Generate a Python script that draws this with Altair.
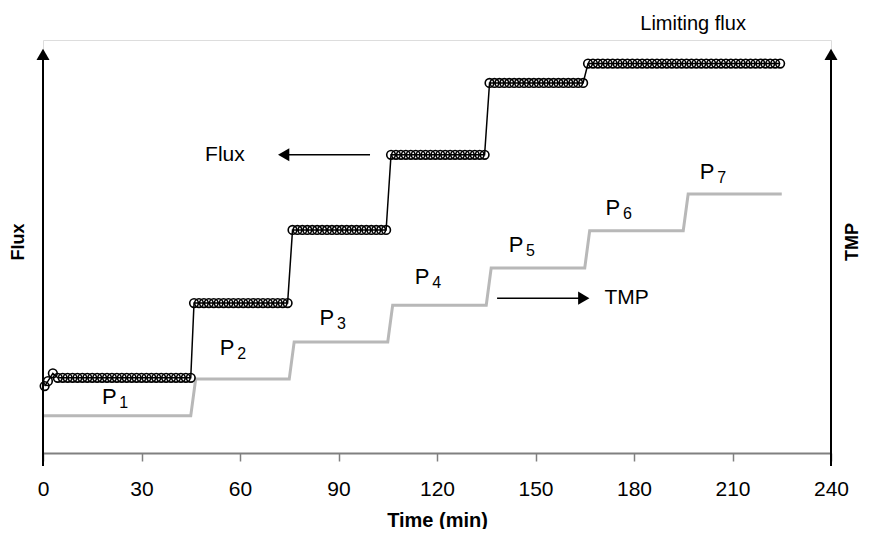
import altair as alt
import pandas as pd

# ---------------- data (arbitrary y units 0-100) ----------------
flux_time = (
    [0.5, 1.5, 3.0]
    + [4.5, 6, 7.5, 9, 10.5, 12, 13.5, 15, 16.5, 18, 19.5, 21, 22.5, 24, 25.5, 27, 28.5, 30,
       31.5, 33, 34.5, 36, 37.5, 39, 40.5, 42, 43.5, 45]
    + [46, 47.5, 49, 50.5, 52, 53.5, 55, 56.5, 58, 59.5, 61, 62.5, 64, 65.5, 67, 68.5, 70, 71.5, 73, 74.5]
    + [76, 77.5, 79, 80.5, 82, 83.5, 85, 86.5, 88, 89.5, 91, 92.5, 94, 95.5, 97, 98.5, 100, 101.5, 103, 104.5]
    + [106, 107.5, 109, 110.5, 112, 113.5, 115, 116.5, 118, 119.5, 121, 122.5, 124, 125.5, 127, 128.5, 130,
       131.5, 133, 134.5]
    + [136, 137.5, 139, 140.5, 142, 143.5, 145, 146.5, 148, 149.5, 151, 152.5, 154, 155.5, 157, 158.5, 160,
       161.5, 163, 164.5]
    + [166, 167.5, 169, 170.5, 172, 173.5, 175, 176.5, 178, 179.5, 181, 182.5, 184, 185.5, 187, 188.5, 190,
       191.5, 193, 194.5, 196, 197.5, 199, 200.5, 202, 203.5, 205, 206.5, 208, 209.5, 211, 212.5, 214, 215.5,
       217, 218.5, 220, 221.5, 223, 224.5]
)
flux_value = (
    [16.2, 17.4, 19.3]
    + [18.2, 18.2, 18.2, 18.2, 18.2, 18.2, 18.2, 18.2, 18.2, 18.2, 18.2, 18.2, 18.2, 18.2, 18.2, 18.2, 18.2,
       18.2, 18.2, 18.2, 18.2, 18.2, 18.2, 18.2, 18.2, 18.2, 18.2, 18.2]
    + [36.3, 36.3, 36.3, 36.3, 36.3, 36.3, 36.3, 36.3, 36.3, 36.3, 36.3, 36.3, 36.3, 36.3, 36.3, 36.3, 36.3,
       36.3, 36.3, 36.3]
    + [54.0, 54.0, 54.0, 54.0, 54.0, 54.0, 54.0, 54.0, 54.0, 54.0, 54.0, 54.0, 54.0, 54.0, 54.0, 54.0, 54.0,
       54.0, 54.0, 54.0]
    + [72.2, 72.2, 72.2, 72.2, 72.2, 72.2, 72.2, 72.2, 72.2, 72.2, 72.2, 72.2, 72.2, 72.2, 72.2, 72.2, 72.2,
       72.2, 72.2, 72.2]
    + [89.6, 89.6, 89.6, 89.6, 89.6, 89.6, 89.6, 89.6, 89.6, 89.6, 89.6, 89.6, 89.6, 89.6, 89.6, 89.6, 89.6,
       89.6, 89.6, 89.6]
    + [94.3, 94.3, 94.3, 94.3, 94.3, 94.3, 94.3, 94.3, 94.3, 94.3, 94.3, 94.3, 94.3, 94.3, 94.3, 94.3, 94.3,
       94.3, 94.3, 94.3, 94.3, 94.3, 94.3, 94.3, 94.3, 94.3, 94.3, 94.3, 94.3, 94.3, 94.3, 94.3, 94.3, 94.3,
       94.3, 94.3, 94.3, 94.3, 94.3, 94.3]
)

tmp_time = [0, 45, 46.5, 75, 76.5, 105, 106.5, 135, 136.5, 165, 166.5, 195, 196.5, 225]
tmp_value = [9.0, 9.0, 17.9, 17.9, 26.9, 26.9, 35.8, 35.8, 44.8, 44.8, 53.8, 53.8, 62.7, 62.7]

x_ticks = [0, 30, 60, 90, 120, 150, 180, 210, 240]

# pressure step labels P1..P7 (centre of each label)
p_sub = ["1", "2", "3", "4", "5", "6", "7"]
p_time = [22.0, 57.9, 88.3, 117.3, 145.9, 175.4, 204.1]
p_level = [13.6, 25.4, 32.7, 42.6, 50.4, 59.3, 68.0]

# annotations
flux_label = {"text": ["Flux"], "t": [55.4], "y": [72.2]}
tmp_label = {"text": ["TMP"], "t": [171.0], "y": [37.5]}
lim_label = {"text": ["Limiting flux"], "t": [198.0], "y": [103.9]}
flux_arrow = {"t": [99.6], "t2": [73.3], "y": [72.2]}
tmp_arrow = {"t": [138.3], "t2": [164.7], "y": [37.5]}

FONT = "Liberation Sans"
W, H = 788, 413

xs = alt.Scale(domain=[0, 240], nice=False, zero=False)
ys = alt.Scale(domain=[0, 100], nice=False, zero=False)

flux_df = pd.DataFrame({"t": flux_time, "v": flux_value})
tmp_df = pd.DataFrame({"t": tmp_time, "v": tmp_value})
p_df = pd.DataFrame({"sub": p_sub, "t": p_time, "y": p_level, "P": ["P"] * len(p_sub)})

x_axis = alt.Axis(values=x_ticks, title="Time (min)", grid=False, labelFlush=False,
                  domainColor="#808080", domainWidth=2,
                  tickColor="#808080", tickWidth=1.5, tickSize=8,
                  labelFont=FONT, labelFontSize=21, labelColor="black", labelPadding=17,
                  titleFont=FONT, titleFontSize=20, titleFontWeight="bold", titleColor="black",
                  titlePadding=11)

tmp_line = alt.Chart(tmp_df).mark_line(color="#b8b8b8", strokeWidth=3).encode(
    x=alt.X("t:Q", scale=xs, axis=x_axis),
    y=alt.Y("v:Q", scale=ys, axis=None),
)

flux_line = alt.Chart(flux_df).mark_line(color="black", strokeWidth=1.5).encode(
    x=alt.X("t:Q", scale=xs), y=alt.Y("v:Q", scale=ys))
flux_pts = alt.Chart(flux_df).mark_point(shape="circle", filled=False, color="black",
                                         strokeWidth=1.6, size=75, opacity=1).encode(
    x=alt.X("t:Q", scale=xs), y=alt.Y("v:Q", scale=ys))

# vertical axis lines with arrowheads (left = Flux, right = TMP)
vaxis_df = pd.DataFrame({"t": [0, 240], "y0": [-3.15, -3.15], "y1": [96.5, 96.5]})
vaxis = alt.Chart(vaxis_df).mark_rule(color="black", strokeWidth=2).encode(
    x=alt.X("t:Q", scale=xs), y=alt.Y("y0:Q", scale=ys), y2="y1:Q")
vheads = alt.Chart(vaxis_df).mark_point(shape="triangle-up", filled=True, color="black",
                                        size=170, opacity=1).encode(
    x=alt.X("t:Q", scale=xs), y=alt.Y("y1:Q", scale=ys))

# annotation arrows
fa_df = pd.DataFrame(flux_arrow)
ta_df = pd.DataFrame(tmp_arrow)
fa_line = alt.Chart(fa_df).mark_rule(color="black", strokeWidth=1.5).encode(
    x=alt.X("t:Q", scale=xs), x2="t2:Q", y=alt.Y("y:Q", scale=ys))
fa_head = alt.Chart(fa_df).mark_point(shape="triangle-left", filled=True, color="black",
                                      size=170, opacity=1).encode(
    x=alt.X("t2:Q", scale=xs), y=alt.Y("y:Q", scale=ys))
ta_line = alt.Chart(ta_df).mark_rule(color="black", strokeWidth=1.5).encode(
    x=alt.X("t:Q", scale=xs), x2="t2:Q", y=alt.Y("y:Q", scale=ys))
ta_head = alt.Chart(ta_df).mark_point(shape="triangle-right", filled=True, color="black",
                                      size=170, opacity=1).encode(
    x=alt.X("t2:Q", scale=xs), y=alt.Y("y:Q", scale=ys))

def label(d, align, size):
    return alt.Chart(pd.DataFrame(d)).mark_text(font=FONT, fontSize=size, color="black",
                                                align=align, baseline="middle").encode(
        x=alt.X("t:Q", scale=xs), y=alt.Y("y:Q", scale=ys), text="text:N")

flux_txt = label(flux_label, "center", 21)
tmp_txt = label(tmp_label, "left", 21)
lim_txt = label(lim_label, "center", 20)

p_main = alt.Chart(p_df).mark_text(font=FONT, fontSize=22, color="black", align="center",
                                   baseline="middle", dx=-6).encode(
    x=alt.X("t:Q", scale=xs), y=alt.Y("y:Q", scale=ys), text="P:N")
p_subs = alt.Chart(p_df).mark_text(font=FONT, fontSize=16, color="black", align="center",
                                   baseline="middle", dx=8.5, dy=6).encode(
    x=alt.X("t:Q", scale=xs), y=alt.Y("y:Q", scale=ys), text="sub:N")

# rotated side titles
side_df = pd.DataFrame({"text": ["Flux", "TMP"], "px": [-24, 810]})
side = alt.Chart(side_df).mark_text(font=FONT, fontSize=18, fontWeight="bold", color="black",
                                    angle=270, align="center", baseline="middle").encode(
    x=alt.X("px:Q", scale=None), y=alt.value(202), text="text:N")

chart = alt.layer(tmp_line, flux_line, flux_pts, vaxis, vheads,
                  fa_line, fa_head, ta_line, ta_head,
                  flux_txt, tmp_txt, lim_txt, p_main, p_subs, side).properties(
    width=W, height=H,
    autosize=alt.AutoSizeParams(type="none"),
    padding={"left": 35, "top": 32, "right": 32, "bottom": 76},
).configure_view(stroke=None).configure(background="white")

chart.save("out.html", embed_options={"renderer": "svg", "actions": False})
